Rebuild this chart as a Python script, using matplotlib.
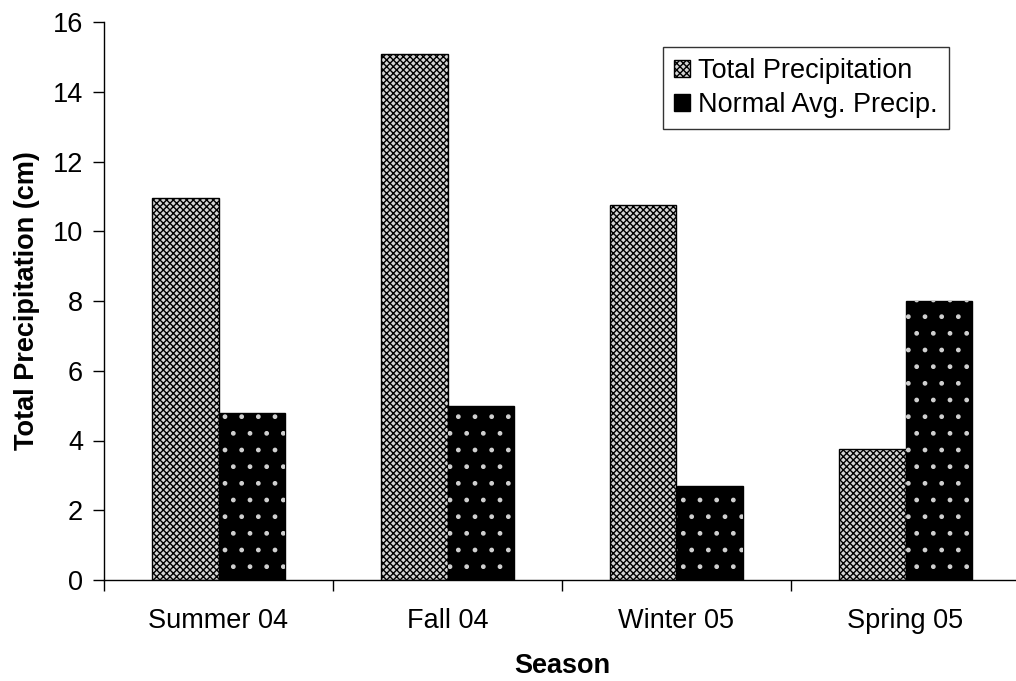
import matplotlib
matplotlib.use("Agg")
import matplotlib.pyplot as plt
import numpy as np

seasons = ["Summer 04", "Fall 04", "Winter 05", "Spring 05"]
total_precip = [10.95, 15.07, 10.75, 3.77]
normal_precip = [4.8, 5.0, 2.7, 8.0]
yticks = [0, 2, 4, 6, 8, 10, 12, 14, 16]

plt.rcParams["font.family"] = ["Liberation Sans", "DejaVu Sans"]
plt.rcParams["hatch.linewidth"] = 1.0

fig = plt.figure(figsize=(10.16, 6.81), dpi=100)
W, H = 1016, 681
ax = fig.add_axes([104 / W, (H - 580) / H, 916 / W, 558 / H])

x = np.arange(len(seasons))
bw = 0.29
FS = 19.5

# Total precipitation: light grey checkered fill
plt.rcParams["hatch.color"] = "#6a6a6a"
tb = ax.bar(x - bw / 2, total_precip, bw, facecolor="#d4d4d4",
            edgecolor="black", linewidth=1.0, hatch="xxxxx",
            label="Total Precipitation", zorder=2)

# Normal average precipitation: black with small light dots
nb = ax.bar(x + bw / 2, normal_precip, bw, facecolor="black",
            edgecolor="black", linewidth=1.0, zorder=2,
            label="Normal Avg. Precip.")
ax.bar(x + bw / 2, normal_precip, bw, facecolor="none",
       edgecolor="#d0d0d0", linewidth=0, hatch=".", zorder=3)

ax.set_xlim(-0.5, 3.5)
ax.set_ylim(0, 16)
ax.set_yticks(yticks)
ax.tick_params(axis="y", direction="out", length=8, width=1, labelsize=FS, pad=7)
ax.set_xticks(x)
ax.set_xticklabels(seasons)
ax.tick_params(axis="x", which="major", length=0, labelsize=FS, pad=20)
ax.set_xticks(np.arange(-0.5, 4.0, 1.0), minor=True)
ax.tick_params(axis="x", which="minor", direction="out", length=8, width=1)

for s in ("top", "right"):
    ax.spines[s].set_visible(False)
for s in ("left", "bottom"):
    ax.spines[s].set_linewidth(1.0)

ax.set_ylabel("Total Precipitation (cm)", fontsize=FS, fontweight="bold", labelpad=9)
ax.set_xlabel("Season", fontsize=FS, fontweight="bold", labelpad=14)

leg = ax.legend(handles=[tb, nb], loc="upper left",
                bbox_to_anchor=((663 - 104) / 916, 1 - (47 - 22) / 558),
                fontsize=FS, frameon=True, fancybox=False, edgecolor="black",
                handlelength=0.6, handleheight=0.6, handletextpad=0.3,
                borderpad=0.4, labelspacing=0.3, borderaxespad=0)
leg.get_frame().set_linewidth(1.0)

fig.savefig("out.png", dpi=100)
